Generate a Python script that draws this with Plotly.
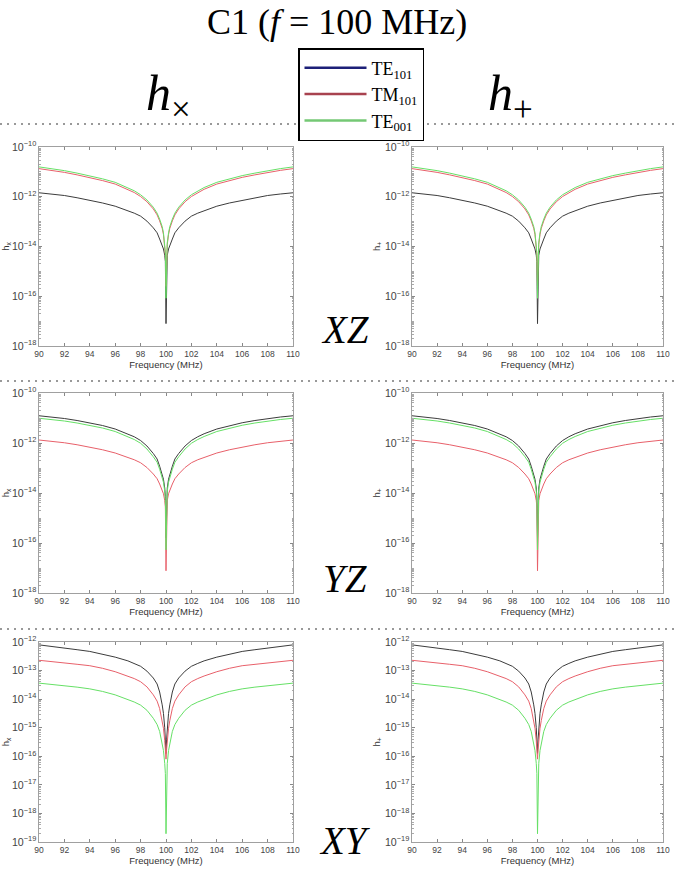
import plotly.graph_objects as go

W, H = 674, 871

# Frequency samples (MHz)
freq_mhz = [90, 91, 92, 93, 94, 95, 96, 97, 97.5, 98, 98.5, 99, 99.3, 99.5, 99.7, 99.8, 99.9, 99.95,
            100,
            100.05, 100.1, 100.2, 100.3, 100.5, 100.7, 101, 101.5, 102, 102.5, 103, 104, 105, 106, 107, 108, 109, 110]

# log10(strain) values
xz_te101 = [-11.84, -11.89, -11.95, -12.04, -12.14, -12.25, -12.38, -12.56, -12.66, -12.78, -12.98, -13.25, -13.45, -13.70, -13.95, -14.10, -14.35, -14.60,
            -17.10,
            -14.60, -14.35, -14.10, -13.95, -13.70, -13.45, -13.25, -12.98, -12.78, -12.66, -12.56, -12.38, -12.25, -12.14, -12.04, -11.95, -11.89, -11.84]
xz_tm101 = [-10.87, -10.94, -11.02, -11.12, -11.22, -11.35, -11.49, -11.70, -11.83, -11.99, -12.20, -12.49, -12.73, -12.97, -13.27, -13.52, -13.92, -14.32,
            -15.60,
            -14.32, -13.92, -13.52, -13.27, -12.97, -12.73, -12.49, -12.20, -11.99, -11.83, -11.70, -11.49, -11.35, -11.22, -11.12, -11.02, -10.94, -10.87]
xz_te001 = [-10.80, -10.87, -10.95, -11.05, -11.15, -11.28, -11.42, -11.63, -11.76, -11.92, -12.13, -12.42, -12.66, -12.90, -13.20, -13.45, -13.85, -14.25,
            -16.08,
            -14.25, -13.85, -13.45, -13.20, -12.90, -12.66, -12.42, -12.13, -11.92, -11.76, -11.63, -11.42, -11.28, -11.15, -11.05, -10.95, -10.87, -10.80]

yz_te101 = [-10.91, -10.96, -11.02, -11.10, -11.19, -11.30, -11.44, -11.63, -11.75, -11.90, -12.12, -12.42, -12.64, -12.93, -13.25, -13.45, -13.80, -14.15,
            -15.80,
            -14.15, -13.80, -13.45, -13.25, -12.93, -12.64, -12.42, -12.12, -11.90, -11.75, -11.63, -11.44, -11.30, -11.19, -11.10, -11.02, -10.96, -10.91]
yz_tm101 = [-11.88, -11.93, -11.99, -12.07, -12.16, -12.27, -12.40, -12.57, -12.67, -12.79, -12.98, -13.24, -13.43, -13.64, -13.88, -14.03, -14.30, -14.55,
            -17.11,
            -14.55, -14.30, -14.03, -13.88, -13.64, -13.43, -13.24, -12.98, -12.79, -12.67, -12.57, -12.40, -12.27, -12.16, -12.07, -11.99, -11.93, -11.88]
yz_te001 = [-11.01, -11.06, -11.12, -11.20, -11.29, -11.40, -11.54, -11.74, -11.86, -12.01, -12.24, -12.55, -12.77, -13.05, -13.37, -13.57, -13.92, -14.27,
            -16.27,
            -14.27, -13.92, -13.57, -13.37, -13.05, -12.77, -12.55, -12.24, -12.01, -11.86, -11.74, -11.54, -11.40, -11.29, -11.20, -11.12, -11.06, -11.01]

xy_te101 = [-12.10, -12.15, -12.21, -12.27, -12.33, -12.42, -12.53, -12.66, -12.75, -12.85, -13.02, -13.26, -13.47, -13.75, -14.20, -14.50, -15.00, -15.40,
            -15.90,
            -15.40, -15.00, -14.50, -14.20, -13.75, -13.47, -13.26, -13.02, -12.85, -12.75, -12.66, -12.53, -12.42, -12.33, -12.27, -12.21, -12.15, -12.10]
xy_tm101 = [-12.64, -12.68, -12.73, -12.78, -12.83, -12.92, -13.04, -13.19, -13.28, -13.39, -13.57, -13.85, -14.07, -14.33, -14.75, -15.02, -15.45, -15.75,
            -16.10,
            -15.75, -15.45, -15.02, -14.75, -14.33, -14.07, -13.85, -13.57, -13.39, -13.28, -13.19, -13.04, -12.92, -12.83, -12.78, -12.73, -12.68, -12.64]
xy_te001 = [-13.44, -13.48, -13.53, -13.58, -13.64, -13.73, -13.85, -14.01, -14.10, -14.21, -14.39, -14.67, -14.89, -15.13, -15.53, -15.80, -16.25, -16.60,
            -18.71,
            -16.60, -16.25, -15.80, -15.53, -15.13, -14.89, -14.67, -14.39, -14.21, -14.10, -14.01, -13.85, -13.73, -13.64, -13.58, -13.53, -13.48, -13.44]

series_names = ["TE<sub>101</sub>", "TM<sub>101</sub>", "TE<sub>001</sub>"]
line_colors = ["#3c3c3c", "#e8606a", "#66e066"]
legend_colors = ["#1d2078", "#a8424f", "#74c874"]

planes = ["XZ", "YZ", "XY"]
plane_data = [[xz_te101, xz_tm101, xz_te001],
              [yz_te101, yz_tm101, yz_te001],
              [xy_te101, xy_tm101, xy_te001]]
y_ranges = [[-18, -10], [-18, -10], [-19, -12]]
y_dticks = [2, 2, 1]
x_ticks = [90, 92, 94, 96, 98, 100, 102, 104, 106, 108, 110]
pol_labels = ["h<sub>x</sub>", "h<sub>+</sub>"]

# layout geometry in pixels
row_px = [(147, 346), (393, 593), (642, 842)]
col_px = [(39, 293), (412, 663)]

def px_x(p):
    return p / W

def px_y(p):
    return 1 - p / H

fig = go.Figure()
layout = {}
SANS = "Liberation Sans"
SERIF = "Liberation Serif"

for r in range(3):
    for c in range(2):
        idx = r * 2 + c + 1
        xa = "x" if idx == 1 else f"x{idx}"
        ya = "y" if idx == 1 else f"y{idx}"
        for s in range(3):
            fig.add_trace(go.Scatter(
                x=freq_mhz, y=[10 ** v for v in plane_data[r][s]],
                mode="lines", line=dict(color=line_colors[s], width=1),
                xaxis=xa, yaxis=ya, showlegend=False, hoverinfo="skip"))
        layout["xaxis" if idx == 1 else f"xaxis{idx}"] = dict(
            domain=[px_x(col_px[c][0]), px_x(col_px[c][1])],
            anchor=ya, range=[90, 110], tickvals=x_ticks,
            ticks="inside", ticklen=3, tickcolor="#888", mirror="ticks",
            showline=True, linecolor="#a0a0a0", linewidth=1,
            showgrid=False, zeroline=False, automargin=False,
            tickfont=dict(family=SANS, size=8.5, color="#444"),
            title=dict(text="Frequency (MHz)", standoff=3,
                       font=dict(family=SANS, size=9.5, color="#333")))
        layout["yaxis" if idx == 1 else f"yaxis{idx}"] = dict(
            domain=[px_y(row_px[r][1]), px_y(row_px[r][0])],
            anchor=xa, type="log", range=y_ranges[r], dtick=y_dticks[r],
            exponentformat="power", showexponent="all",
            ticks="inside", ticklen=3, tickcolor="#888", mirror="ticks",
            minor=dict(ticks="inside", ticklen=1.5, tickcolor="#aaa", dtick="D1", showgrid=False),
            showline=True, linecolor="#a0a0a0", linewidth=1,
            showgrid=False, zeroline=False, automargin=False,
            tickfont=dict(family=SANS, size=8.5, color="#444"),
            title=dict(text=pol_labels[c], standoff=2,
                       font=dict(family=SANS, size=9.5, color="#333")))

# legend entries
for s in range(3):
    fig.add_trace(go.Scatter(x=[None], y=[None], mode="lines", name=series_names[s],
                             line=dict(color=legend_colors[s], width=2.5), showlegend=True))

annotations = [
    dict(text="C1 (<i>f</i> = 100 MHz)", x=0.5, y=px_y(22), xref="paper", yref="paper",
         showarrow=False, xanchor="center", yanchor="middle",
         font=dict(family=SERIF, size=36, color="black")),
    dict(text="<i>h</i><sub>×</sub>", x=px_x(168), y=px_y(97), xref="paper", yref="paper",
         showarrow=False, xanchor="center", yanchor="middle",
         font=dict(family=SERIF, size=50, color="black")),
    dict(text="<i>h</i><sub>+</sub>", x=px_x(510), y=px_y(97), xref="paper", yref="paper",
         showarrow=False, xanchor="center", yanchor="middle",
         font=dict(family=SERIF, size=50, color="black")),
]
plane_y = [330, 578, 840]
for r in range(3):
    annotations.append(dict(text=f"<i>{planes[r]}</i>", x=px_x(345), y=px_y(plane_y[r]),
                            xref="paper", yref="paper", showarrow=False,
                            xanchor="center", yanchor="middle",
                            font=dict(family=SERIF, size=39, color="black")))

shapes = []
for yp in [124, 381, 629]:
    shapes.append(dict(type="line", xref="paper", yref="paper", x0=0, x1=1,
                       y0=px_y(yp), y1=px_y(yp),
                       line=dict(color="#999", width=2, dash="2px,5px")))

fig.update_layout(
    width=W, height=H, margin=dict(l=0, r=0, t=0, b=0),
    paper_bgcolor="white", plot_bgcolor="white",
    showlegend=True,
    legend=dict(x=px_x(298), y=px_y(48), xanchor="left", yanchor="top",
                bordercolor="black", borderwidth=1.5, bgcolor="white",
                font=dict(family=SERIF, size=18, color="black"),
                tracegroupgap=0, itemwidth=62),
    annotations=annotations, shapes=shapes, **layout)

fig.write_html("out.html", config={"displayModeBar": False},
               post_script="document.body.style.margin='0px';")
